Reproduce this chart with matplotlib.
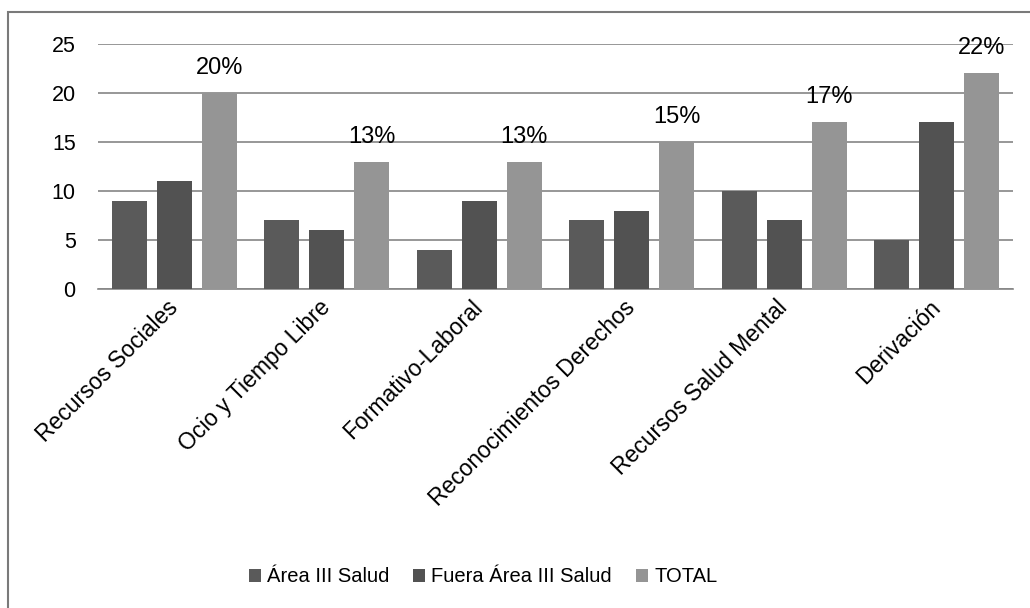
import numpy as np
import matplotlib
matplotlib.use('Agg')
import matplotlib.pyplot as plt
from matplotlib.patches import Rectangle

plt.rcParams['font.family'] = ['Liberation Sans', 'DejaVu Sans']

categories = ['Recursos Sociales', 'Ocio y Tiempo Libre', 'Formativo-Laboral',
              'Reconocimientos Derechos', 'Recursos Salud Mental', 'Derivación']
area_iii = [9, 7, 4, 7, 10, 5]
fuera = [11, 6, 9, 8, 7, 17]
total = [20, 13, 13, 15, 17, 22]
pct_labels = ['20%', '13%', '13%', '15%', '17%', '22%']

series_names = ['Área III Salud', 'Fuera Área III Salud', 'TOTAL']
colors = ['#5a5a5a', '#525252', '#959595']

fig = plt.figure(figsize=(10.30, 6.08), dpi=100)
ax = fig.add_axes([0.0951, 0.5247, 0.8884, 0.4029])

x = np.arange(len(categories))
w = 0.23
step = 0.295
for k, (vals, name, c) in enumerate(zip([area_iii, fuera, total], series_names, colors)):
    ax.bar(x + (k - 1) * step, vals, width=w, color=c, label=name, zorder=3)

# percentage labels over the TOTAL bars
for xi, v, lab in zip(x, total, pct_labels):
    ax.annotate(lab, (xi + step, v), xytext=(0, 18), textcoords='offset points',
                ha='center', va='center', fontsize=17, zorder=4)

ax.set_xlim(-0.5, len(categories) - 0.5)
ax.set_ylim(0, 25)
ax.set_yticks(range(0, 26, 5))
ax.yaxis.grid(True, color='#858585', linewidth=1.2, zorder=0)
ax.set_axisbelow(True)
ax.tick_params(axis='y', length=0, labelsize=15.5, pad=16)
ax.tick_params(axis='x', length=0, labelsize=16.5, pad=11)
ax.set_xticks(x)
ax.set_xticklabels(categories, rotation=45, ha='right', va='center',
                   rotation_mode='anchor')
for s in ['top', 'right', 'left']:
    ax.spines[s].set_visible(False)
ax.spines['bottom'].set_color('#858585')
ax.spines['bottom'].set_linewidth(1.2)

fig.legend(loc='center', bbox_to_anchor=(483 / 1030, 1 - 577 / 608), ncol=3,
           frameon=False, fontsize=14.5, handlelength=0.6, handleheight=0.6,
           handletextpad=0.3, columnspacing=1.2)

fig.patches.append(Rectangle((8 / 1030, -0.1), 1.2, 1.1 - 12 / 608,
                             transform=fig.transFigure, fill=False,
                             edgecolor='#7a7a7a', linewidth=1.5))

fig.savefig('out.png', dpi=100)
